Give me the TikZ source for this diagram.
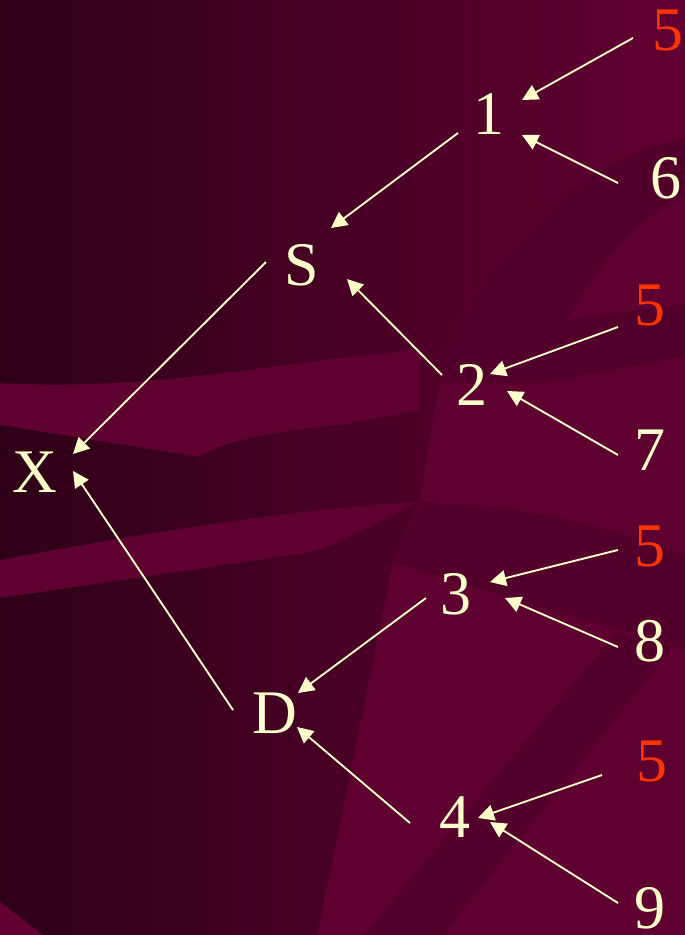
\documentclass[tikz,border=0pt]{standalone}
\usepackage{fontspec}
\setmainfont{Liberation Serif}
\usetikzlibrary{arrows.meta}
\definecolor{bgdark}{HTML}{2E0017}
\definecolor{bglight}{HTML}{620032}
\definecolor{swlight}{HTML}{5E0030}
\definecolor{swdark}{HTML}{52002B}
\definecolor{cream}{HTML}{FFFFCC}
\definecolor{hot}{HTML}{FF3300}

\begin{document}
\begin{tikzpicture}[x=0.75pt, y=-0.75pt,
  lbl/.style={cream, inner sep=0pt, font=\fontsize{46.5}{50}\selectfont},
  hotlbl/.style={lbl, text=hot},
  arr/.style={cream, line width=1.4pt, -{Triangle[length=12pt, width=12pt]}}]
  \useasboundingbox (0,0) rectangle (685,935);

  % background (slide template swooshes, drawn first)
  \shade[left color=bgdark, right color=bglight] (0,0) rectangle (685,935);
  \fill[swlight] (0,383) .. controls (120,390) and (230,372) .. (340,358)
    -- (420,350) -- (420,410) -- (340,425) .. controls (260,432) and (215,445) .. (200,457)
    -- (0,425) -- cycle;
  \fill[swlight] (0,560) .. controls (150,532) and (300,508) .. (420,502)
    .. controls (380,520) and (340,545) .. (306,553) -- (0,598) -- cycle;
  \fill[swlight] (685,138) .. controls (560,165) and (470,270) .. (440,383)
    .. controls (430,430) and (425,470) .. (420,500)
    -- (393,563) .. controls (365,700) and (335,850) .. (317,935) -- (685,935) -- cycle;
  \fill[swdark] (685,138) .. controls (560,165) and (470,270) .. (440,383)
    -- (540,383) -- (567,320) .. controls (600,260) and (640,215) .. (685,197) -- cycle;
  \fill[swdark] (567,320) -- (685,303) -- (685,357) -- (540,383) -- cycle;
  \fill[swdark] (420,502) .. controls (520,505) and (610,525) .. (685,555)
    -- (685,650) -- (393,563) -- cycle;
  \fill[swdark] (617,632) -- (672,648) -- (443,935) -- (364,935) -- cycle;
  \fill[bglight] (0,902) -- (43,935) -- (0,935) -- cycle;

  % labels
  \node[lbl] (x) at (35,472) {X};
  \node[lbl] (s) at (302,265) {S};
  \node[lbl] (d) at (275,713) {D};
  \node[lbl] (n1) at (489,114) {1};
  \node[lbl] (n2) at (472,385) {2};
  \node[lbl] (n3) at (456,594) {3};
  \node[lbl] (n4) at (455,817) {4};
  \node[hotlbl] (r1) at (668,31) {5};
  \node[hotlbl] (r2) at (650,306) {5};
  \node[hotlbl] (r3) at (650,546) {5};
  \node[hotlbl] (r4) at (652,761) {5};
  \node[lbl] (n6) at (666,178) {6};
  \node[lbl] (n7) at (650,450) {7};
  \node[lbl] (n8) at (650,641) {8};
  \node[lbl] (n9) at (650,908) {9};

  % leaves into the middle column
  \draw[arr] ([shift={(-35,7)}]r1.center) -- ([shift={(33,-14)}]n1.center);
  \draw[arr] ([shift={(-48,5)}]n6.center) -- ([shift={(33,21)}]n1.center);
  \draw[arr] ([shift={(-32,21)}]r2.center) -- ([shift={(18,-11)}]n2.center);
  \draw[arr] ([shift={(-32,5)}]n7.center) -- ([shift={(35,6)}]n2.center);
  \draw[arr] ([shift={(-32,4)}]r3.center) -- ([shift={(34,-12)}]n3.center);
  \draw[arr] ([shift={(-32,6)}]n8.center) -- ([shift={(49,4)}]n3.center);
  \draw[arr] ([shift={(-50,14)}]r4.center) -- ([shift={(23,1)}]n4.center);
  \draw[arr] ([shift={(-32,-5)}]n9.center) -- ([shift={(35,5)}]n4.center);
  % middle column into S and D
  \draw[arr] ([shift={(-31,19)}]n1.center) -- ([shift={(29,-37)}]s.center);
  \draw[arr] ([shift={(-30,-10)}]n2.center) -- ([shift={(45,14)}]s.center);
  \draw[arr] ([shift={(-30,4)}]n3.center) -- ([shift={(23,-20)}]d.center);
  \draw[arr] ([shift={(-45,6)}]n4.center) -- ([shift={(22,14)}]d.center);
  % S and D into X
  \draw[arr] ([shift={(-36,-3)}]s.center) -- ([shift={(38,-18)}]x.center);
  \draw[arr] ([shift={(-42,-3)}]d.center) -- ([shift={(38,-1)}]x.center);
\end{tikzpicture}
\end{document}
